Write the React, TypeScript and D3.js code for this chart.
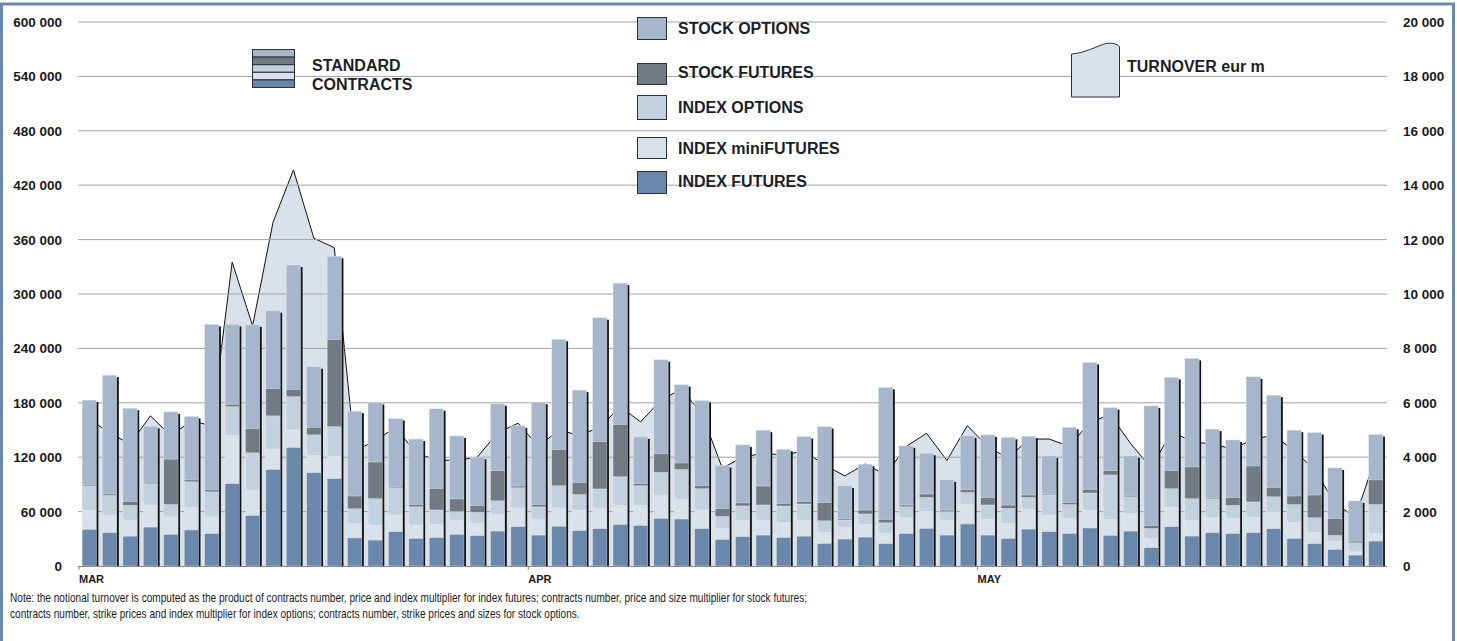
import React from 'react';
import * as d3 from 'd3';

// contracts per day, split by product (bottom to top of each stack)
const indexFutures = [
  40500, 36800, 33000, 43000, 35000, 39800, 35700, 91000, 56000, 106700, 130700, 103000, 96400, 31000, 28700, 37900,
  30500, 31300, 35000, 33500, 38600, 43400, 34200, 44000, 39000, 41200, 46000, 45000, 52600, 51900, 41200, 29400,
  32400, 34200, 31600, 33000, 25000, 29800, 32000, 24700, 36000, 41600, 34200, 46400, 34200, 30500, 40800, 37900,
  36000, 42000, 33900, 38600, 20200, 43400, 33100, 36800, 36000, 36800, 41200, 30500, 24700, 18400, 12100, 27600,
];
const indexMiniFutures = [
  22000, 20200, 18500, 25000, 20000, 25700, 19300, 54000, 28700, 22300, 19300, 20000, 25100, 16900, 17300, 18400,
  15500, 15700, 16500, 14700, 19400, 21400, 18400, 20800, 22800, 23600, 22000, 22400, 26400, 22800, 21400, 12600,
  18400, 16600, 17400, 17800, 12900, 13600, 15000, 12500, 18500, 19400, 16600, 22000, 17700, 17300, 22900, 18400,
  17700, 20000, 18400, 20300, 11100, 22500, 17700, 17700, 17400, 17700, 18800, 18500, 13200, 9200, 5200, 9200,
];
const indexOptions = [
  26000, 21000, 15500, 23000, 13000, 27500, 27000, 31000, 40300, 36600, 37000, 21700, 32400, 15400, 28400, 30200,
  19500, 14800, 8500, 11100, 14000, 21700, 12900, 23900, 17200, 20200, 30600, 21300, 24400, 32000, 22800, 12800,
  15500, 16500, 17200, 17600, 12100, 7400, 10400, 10600, 11000, 14800, 9200, 12900, 15400, 15900, 12100, 22100,
  14300, 18500, 48200, 17600, 10300, 19500, 23500, 19800, 13600, 16200, 16500, 19000, 15500, 6300, 8500, 31200,
];
const stockFutures = [
  1500, 1500, 4000, 1500, 50000, 2000, 2000, 2500, 26700, 30400, 8000, 8000, 95700, 14000, 40400, 1500,
  2500, 24000, 14000, 7300, 33000, 1800, 2500, 40100, 13000, 52000, 57800, 2600, 20300, 7000, 3300, 8500,
  3300, 21000, 3000, 3000, 20300, 1800, 4400, 3700, 1800, 3700, 1800, 2700, 8500, 3600, 2600, 1100,
  2000, 4000, 4500, 1500, 3300, 19600, 35000, 1100, 8400, 39700, 10000, 9300, 25000, 18400, 1800, 27000,
];
const stockOptions = [
  93000, 131000, 103000, 61500, 52000, 70000, 182500, 88000, 114300, 85600, 137000, 67100, 92000, 93500, 65600, 74700,
  72000, 87600, 69500, 53400, 74000, 66300, 112700, 121200, 102000, 136900, 155600, 51100, 103800, 86300, 93900, 47500,
  64000, 61500, 59600, 71400, 83500, 35700, 50400, 145500, 65200, 44900, 33200, 59500, 68800, 74700, 64800, 41900,
  83000, 140000, 69800, 43400, 131700, 103000, 119700, 75600, 63600, 98300, 101900, 72500, 68800, 55900, 44200, 50000,
];
// notional turnover, eur m
const turnover = [
  5400, 4900, 4480, 5520, 4780, 5340, 5150, 11170, 8830, 12640, 14560, 12050, 11700, 4230, 4600, 5100,
  4150, 3900, 3880, 4000, 4900, 5250, 4400, 5000, 4800, 5100, 5860, 5300, 6100, 6500, 5600, 3600,
  4000, 4150, 4080, 4230, 3720, 3310, 3750, 3350, 4390, 4880, 3880, 5160, 4390, 3960, 4660, 4670,
  4390, 5300, 5550, 4500, 3600, 4940, 4570, 4480, 4300, 4660, 4810, 4230, 3560, 2300, 1800, 4000,
];

const months = ['MAR', 'APR', 'MAY'];
const monthFirstDay = [0, 22, 44];
const leftTicks = [0, 60000, 120000, 180000, 240000, 300000, 360000, 420000, 480000, 540000, 600000];
const rightTicks = [0, 2000, 4000, 6000, 8000, 10000, 12000, 14000, 16000, 18000, 20000];

const noteLines = [
  'Note: the notional turnover is computed as the product of contracts number, price and index multiplier for index futures; contracts number, price and size multiplier for stock futures;',
  'contracts number, strike prices and index multiplier for index options; contracts number, strike prices and sizes for stock options.',
];

const seriesNames = ['INDEX FUTURES', 'INDEX miniFUTURES', 'INDEX OPTIONS', 'STOCK FUTURES', 'STOCK OPTIONS'];
const seriesData = [indexFutures, indexMiniFutures, indexOptions, stockFutures, stockOptions];
const colors = ['#6a88ab', '#d9e2eb', '#c3d1df', '#727a84', '#a6b7cd'];

const W = 1457;
const H = 641;
const FONT = 'Arial, "Liberation Sans", sans-serif';

const fmt = d3.formatLocale({ decimal: '.', thousands: ' ', grouping: [3], currency: ['', ''] }).format(',d');

export default function App() {
  const left = 78;
  const right = 1387;
  const top = 22;
  const bottom = 566;

  const days = turnover.map((_, i) => i);
  const x = d3.scaleBand<number>().domain(days).range([left, right]).paddingInner(0.3).paddingOuter(0.2);
  const bw = x.bandwidth();
  const half = (x.step() - bw) / 2;
  const y = d3.scaleLinear().domain([0, 600000]).range([bottom, top]);
  const y2 = d3.scaleLinear().domain([0, 20000]).range([bottom, top]);

  const rows = days.map(i => {
    const r: any = { i };
    seriesNames.forEach((n, k) => (r[n] = seriesData[k][i]));
    return r;
  });
  const stacked = d3.stack<any>().keys(seriesNames)(rows);
  const totals = days.map(i => seriesData.reduce((s, arr) => s + arr[i], 0));

  const area = d3
    .area<number>()
    .x((_, i) => (x(i) as number) + bw / 2)
    .y0(bottom)
    .y1(d => y2(d));
  const line = d3
    .line<number>()
    .x((_, i) => (x(i) as number) + bw / 2)
    .y(d => y2(d));

  // legend (top to bottom: stock options ... index futures)
  const legendOrder = [4, 3, 2, 1, 0];
  const legendBoxes = [
    [17, 39, 34],
    [63, 84, 78],
    [95, 119, 113],
    [137, 158, 154],
    [171, 193, 187],
  ];

  return (
    <svg width={W} height={H} style={{ position: 'absolute', left: 0, top: 0, background: '#fff' }}>
      <rect x={1.5} y={4} width={1452} height={700} fill="#fff" stroke="#6a88ab" strokeWidth={3} />

      {/* turnover area */}
      <path d={area(turnover) || ''} fill="#d9e2eb" />
      <path d={line(turnover) || ''} fill="none" stroke="#111" strokeWidth={1} />

      {/* grid */}
      {leftTicks.slice(1).map(t => (
        <line key={t} x1={left} x2={right} y1={y(t)} y2={y(t)} stroke="#a3a3a3" strokeWidth={1} />
      ))}

      {/* bars */}
      {days.map(i => {
        const bx = x(i) as number;
        return (
          <g key={i}>
            <rect x={bx + 2} y={y(totals[i]) + 2} width={bw} height={bottom - y(totals[i]) - 2} fill="#111" />
            {stacked.map((s, k) => (
              <rect
                key={k}
                x={bx}
                y={y(s[i][1])}
                width={bw}
                height={Math.max(0, y(s[i][0]) - y(s[i][1]))}
                fill={colors[k]}
                stroke="#e3e9f0"
                strokeWidth={0.4}
              />
            ))}
          </g>
        );
      })}

      {/* x axis */}
      <line x1={left} x2={right} y1={bottom + 0.5} y2={bottom + 0.5} stroke="#8a8a8a" />
      {months.map((m, k) => {
        const tx = (x(monthFirstDay[k]) as number) - half;
        return (
          <g key={m}>
            <line x1={tx} x2={tx} y1={bottom} y2={bottom + 4} stroke="#8a8a8a" />
            <text x={tx} y={583} fontFamily={FONT} fontWeight="bold" fontSize={11} fill="#1a1a1a">
              {m}
            </text>
          </g>
        );
      })}

      {/* left axis */}
      {leftTicks.map(t => (
        <text key={t} x={62} y={y(t) + 5} textAnchor="end" fontFamily={FONT} fontWeight="bold" fontSize={13.5} fill="#1a1a1a">
          {fmt(t)}
        </text>
      ))}
      {/* right axis */}
      {rightTicks.map(t => (
        <text key={t} x={1403} y={y2(t) + 5} fontFamily={FONT} fontWeight="bold" fontSize={13.5} fill="#1a1a1a">
          {fmt(t)}
        </text>
      ))}

      {/* legend: standard contracts */}
      {legendOrder.map((k, j) => (
        <rect key={k} x={252.5} y={49.5 + j * 7.6} width={42} height={7.6} fill={colors[k]} stroke="#2a2f38" strokeWidth={1} />
      ))}
      <text x={312} y={71} fontFamily={FONT} fontWeight="bold" fontSize={16} fill="#1a1f2a">STANDARD</text>
      <text x={312} y={90} fontFamily={FONT} fontWeight="bold" fontSize={16} fill="#1a1f2a">CONTRACTS</text>

      {legendOrder.map((k, j) => {
        const [y0, y1, by] = legendBoxes[j];
        return (
          <g key={k}>
            <rect x={637.5} y={y0 + 0.5} width={29} height={y1 - y0} fill={colors[k]} stroke="#2a2f38" strokeWidth={1} />
            <text x={678} y={by} fontFamily={FONT} fontWeight="bold" fontSize={16} fill="#1a1f2a">
              {seriesNames[k]}
            </text>
          </g>
        );
      })}

      {/* legend: turnover */}
      <path d="M1071.5,54 C1085,53 1097,46 1106,43.5 C1112,42.5 1117,44 1119.5,46.5 L1119.5,97 L1071.5,97 Z" fill="#d9e2eb" stroke="#2a2f38" strokeWidth={1} />
      <text x={1127} y={72} fontFamily={FONT} fontWeight="bold" fontSize={16} fill="#1a1f2a">TURNOVER eur m</text>

      {/* note (condensed, like a narrow face) */}
      <g transform="translate(10,0) scale(0.84,1)">
        {noteLines.map((t, k) => (
          <text key={k} x={0} y={602 + k * 16} fontFamily={FONT} fontSize={12} fill="#1a1a1a">
            {t}
          </text>
        ))}
      </g>
    </svg>
  );
}
